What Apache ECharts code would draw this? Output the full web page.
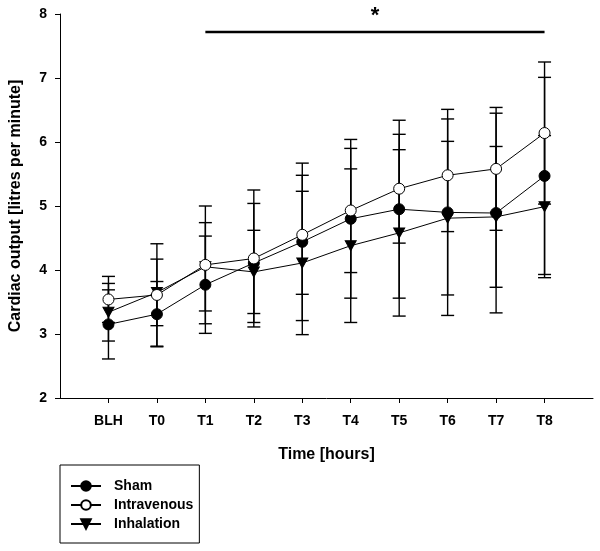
<!DOCTYPE html>
<html>
<head>
<meta charset="utf-8">
<script src="https://cdn.jsdelivr.net/npm/echarts@6/dist/echarts.min.js"></script>
<style>html,body{margin:0;padding:0;background:#fff}#c{width:600px;height:551px}</style>
</head>
<body>
<div id="c"></div>
<script>
var categories = ['BLH','T0','T1','T2','T3','T4','T5','T6','T7','T8'];
var sham   = [3.15, 3.31, 3.77, 4.11, 4.44, 4.80, 4.95, 4.90, 4.89, 5.47];
var shamSD = [0.54, 0.51, 0.76, 0.93, 1.23, 1.24, 1.39, 1.61, 1.56, 1.54];
var iv     = [3.54, 3.61, 4.08, 4.18, 4.55, 4.93, 5.27, 5.48, 5.58, 6.14];
var ivSD   = [0.36, 0.80, 0.92, 1.07, 0.93, 0.97, 0.85, 0.88, 0.96, 1.11];
var inh    = [3.34, 3.65, 4.05, 3.97, 4.11, 4.38, 4.58, 4.81, 4.83, 4.99];
var inhSD  = [0.45, 0.52, 0.69, 0.65, 1.12, 1.20, 1.30, 1.20, 1.10, 1.11];
var yTicks = [2, 3, 4, 5, 6, 7, 8];
var sigFrom = 'T1', sigTo = 'T8', sigLevel = 7.72, sigLabel = '*';

var axisCats = [''].concat(categories).concat(['']);
var FONT = 'Liberation Sans, Arial, sans-serif';

function pts(vals){ return vals.map(function(v,i){ return [i+1, v]; }); }
function errData(vals, sds){ return vals.map(function(v,i){ return [i+1, v, sds[i]]; }); }

function errRender(params, api){
  var x = api.value(0), y = api.value(1), sd = api.value(2);
  var top = api.coord([x, y + sd]);
  var bot = api.coord([x, y - sd]);
  var hw = 6.5;
  var st = {stroke:'#000', lineWidth:1.4};
  return {type:'group', children:[
    {type:'line', shape:{x1:top[0], y1:top[1], x2:bot[0], y2:bot[1]}, style:st},
    {type:'line', shape:{x1:top[0]-hw, y1:top[1], x2:top[0]+hw, y2:top[1]}, style:st},
    {type:'line', shape:{x1:bot[0]-hw, y1:bot[1], x2:bot[0]+hw, y2:bot[1]}, style:st}
  ]};
}

function sigRender(params, api){
  var a = api.coord([api.value(0), api.value(2)]);
  var b = api.coord([api.value(1), api.value(2)]);
  return {type:'group', children:[
    {type:'line', shape:{x1:a[0], y1:a[1], x2:b[0], y2:b[1]}, style:{stroke:'#000', lineWidth:2.5}},
    {type:'text', style:{text:sigLabel, x:(a[0]+b[0])/2, y:a[1]-5, align:'center', verticalAlign:'bottom',
      font:'bold 22px ' + FONT, fill:'#000'}}
  ]};
}

var chart = echarts.init(document.getElementById('c'), null, {renderer:'canvas'});
chart.setOption({
  animation:false,
  backgroundColor:'#fff',
  grid:{left:58, right:7, top:14, bottom:153, containLabel:false},
  legend:{
    orient:'vertical', left:60, top:465,
    padding:[14,6,12,10], itemGap:5, itemWidth:30, itemHeight:12,
    borderColor:'#000', borderWidth:1, borderRadius:0,
    textStyle:{fontFamily:FONT, fontWeight:'bold', fontSize:14, color:'#000', padding:[0,0,0,8]},
    data:['Sham','Intravenous','Inhalation']
  },
  xAxis:{
    type:'category', data:axisCats, boundaryGap:false,
    name:'Time [hours]', nameLocation:'middle', nameGap:49,
    nameTextStyle:{fontFamily:FONT, fontWeight:'bold', fontSize:16, color:'#000'},
    axisLine:{lineStyle:{color:'#000', width:1}},
    axisTick:{show:true, length:5, inside:false, lineStyle:{color:'#000'},
      interval:function(i){ return i>0 && i<axisCats.length-1; }},
    axisLabel:{interval:0, margin:16, fontFamily:FONT, fontWeight:'bold', fontSize:14, color:'#000'},
    splitLine:{show:false}
  },
  yAxis:{
    type:'value', min:yTicks[0], max:yTicks[yTicks.length-1], interval:1,
    name:'Cardiac output [litres per minute]', nameLocation:'middle', nameGap:36,
    nameTextStyle:{fontFamily:FONT, fontWeight:'bold', fontSize:16, color:'#000'},
    axisLine:{show:true, lineStyle:{color:'#000', width:1}},
    axisTick:{show:true, length:5, lineStyle:{color:'#000'}},
    axisLabel:{margin:13, fontFamily:FONT, fontWeight:'bold', fontSize:14, color:'#000'},
    splitLine:{show:false}
  },
  series:[
    {type:'custom', name:'err-sham', renderItem:errRender, data:errData(sham, shamSD), z:1, silent:true},
    {type:'custom', name:'err-iv', renderItem:errRender, data:errData(iv, ivSD), z:1, silent:true},
    {type:'custom', name:'err-inh', renderItem:errRender, data:errData(inh, inhSD), z:1, silent:true},
    {type:'custom', name:'sig', renderItem:sigRender,
      data:[[categories.indexOf(sigFrom)+1, categories.indexOf(sigTo)+1, sigLevel]], z:1, silent:true},
    {type:'line', name:'Sham', data:pts(sham), symbol:'circle', symbolSize:11,
      lineStyle:{color:'#000', width:1}, itemStyle:{color:'#000', borderColor:'#000', borderWidth:1}, z:3},
    {type:'line', name:'Intravenous', data:pts(iv), symbol:'circle', symbolSize:11,
      lineStyle:{color:'#000', width:1}, itemStyle:{color:'#fff', borderColor:'#000', borderWidth:1}, z:4},
    {type:'line', name:'Inhalation', data:pts(inh), symbol:'triangle', symbolSize:[11,10], symbolRotate:180,
      lineStyle:{color:'#000', width:1}, itemStyle:{color:'#000', borderColor:'#000', borderWidth:1}, z:3}
  ]
});
</script>
</body>
</html>
